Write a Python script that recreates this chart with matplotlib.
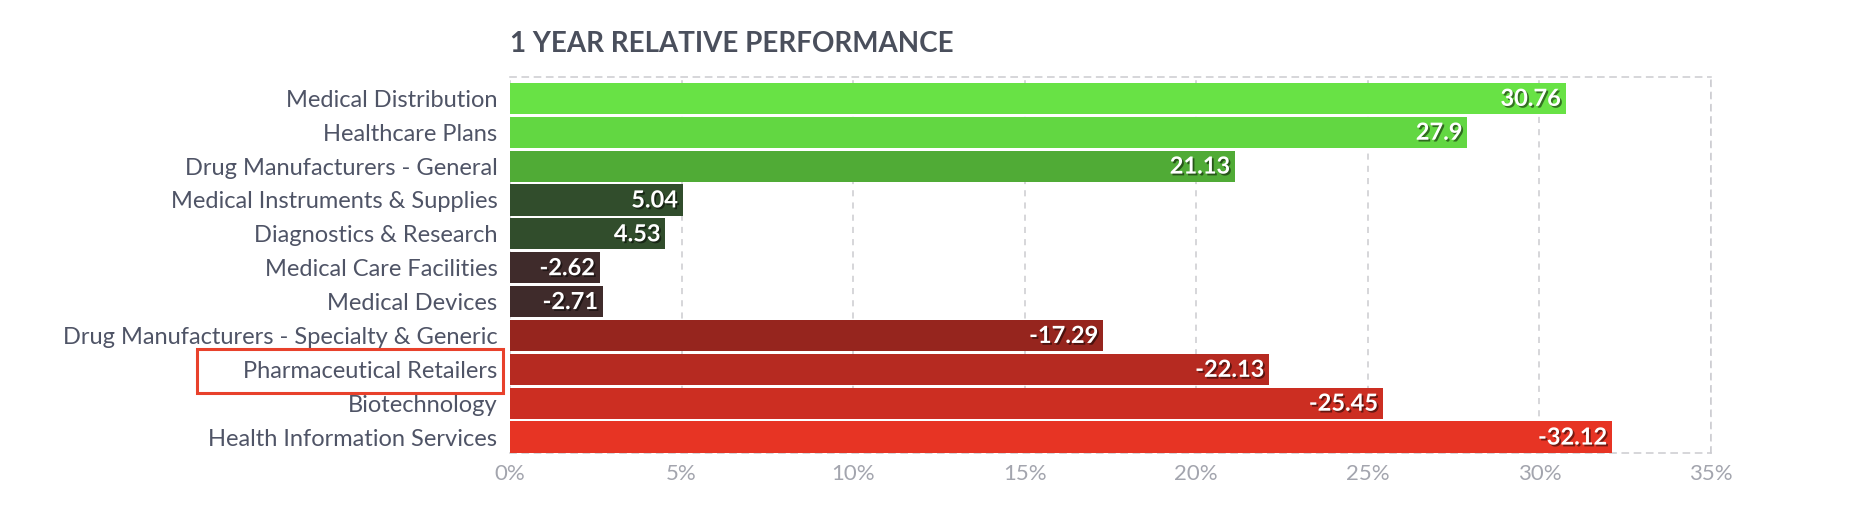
import matplotlib
matplotlib.use('Agg')
import matplotlib.pyplot as plt
import matplotlib.patheffects as pe
from matplotlib.patches import Rectangle

plt.rcParams['font.family'] = ['Lato', 'DejaVu Sans']

# data
industries = ['Medical Distribution', 'Healthcare Plans', 'Drug Manufacturers - General',
              'Medical Instruments & Supplies', 'Diagnostics & Research',
              'Medical Care Facilities', 'Medical Devices',
              'Drug Manufacturers - Specialty & Generic', 'Pharmaceutical Retailers',
              'Biotechnology', 'Health Information Services']
performance = [30.76, 27.9, 21.13, 5.04, 4.53, -2.62, -2.71, -17.29, -22.13, -25.45, -32.12]
bar_colors = ['#68e245', '#62d742', '#50ab36', '#314d2c', '#314d2c', '#3f2b2b', '#3f2b2b',
              '#96251e', '#b62a21', '#cc2e22', '#e73424']
xticks = [0, 5, 10, 15, 20, 25, 30, 35]
highlight = 'Pharmaceutical Retailers'

label_col = '#4f5466'
grid_col = '#cbcbd0'

fig = plt.figure(figsize=(18.7, 5.3), dpi=100)
ax = fig.add_axes([510 / 1870, 1 - 453 / 530, 1201 / 1870, 376 / 530])

ypos = list(range(len(industries)))
lengths = [abs(v) for v in performance]
ax.barh(ypos, lengths, height=0.92, color=bar_colors, zorder=3)

ax.set_xlim(0, 35)
ax.set_ylim(10.47, -0.63)
ax.set_xticks(xticks)
ax.set_xticklabels([f'{t}%' for t in xticks], color='#a3a5ae', fontsize=16)
ax.set_yticks(ypos)
ax.set_yticklabels(industries, color=label_col, fontsize=17)
ax.tick_params(axis='both', length=0)
ax.tick_params(axis='y', pad=9)
ax.tick_params(axis='x', pad=8)

ax.grid(axis='x', color=grid_col, linestyle=(0, (4, 4)), linewidth=1.1, zorder=0)
ax.spines['left'].set_visible(False)
for s in ['top', 'bottom', 'right']:
    ax.spines[s].set_color(grid_col)
    ax.spines[s].set_linestyle((0, (4, 4)))
    ax.spines[s].set_linewidth(1.1)

shadow = [pe.SimplePatchShadow(offset=(1.3, -1.3), shadow_rgbFace='black', alpha=0.5), pe.Normal()]
for y, v, w in zip(ypos, performance, lengths):
    ax.text(w - 0.14, y, f'{v:g}', ha='right', va='center', color='white',
            fontsize=17, fontweight='bold', zorder=4, path_effects=shadow)

fig.text(510 / 1870, 1 - 52 / 530, '1 YEAR RELATIVE PERFORMANCE', fontsize=20,
         fontweight='bold', color='#4a4f5c', ha='left', va='baseline')

# red box around the highlighted label
i = industries.index(highlight)
fig.patches.append(Rectangle((197 / 1870, 1 - 393 / 530), 306 / 1870, 44 / 530,
                             transform=fig.transFigure, fill=False,
                             edgecolor='#e8412b', linewidth=2.2))

fig.savefig('out.png', dpi=100, facecolor='white')
